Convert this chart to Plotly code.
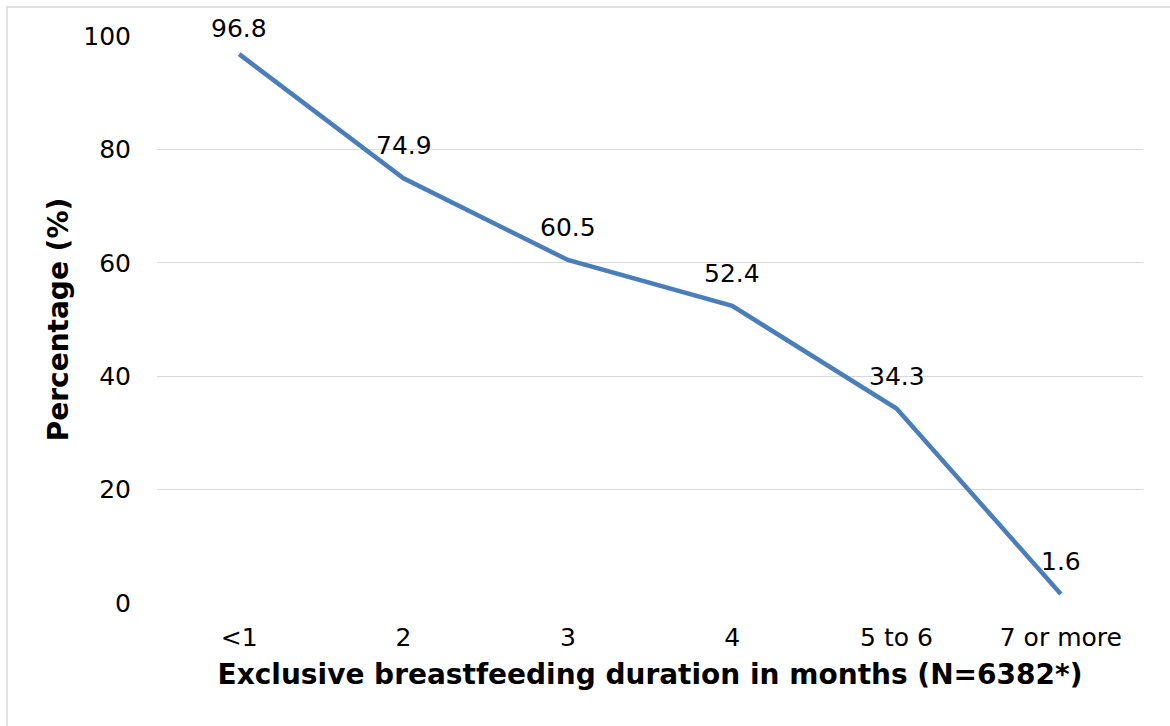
import plotly.graph_objects as go

categories = ["<1", "2", "3", "4", "5 to 6", "7 or more"]
values = [96.8, 74.9, 60.5, 52.4, 34.3, 1.6]
y_ticks = [0, 20, 40, 60, 80, 100]

FONT = "DejaVu Sans"
TICK_SIZE = 25
TITLE_SIZE = 28

fig = go.Figure()
fig.add_trace(go.Scatter(
    x=categories, y=values, mode="lines",
    line=dict(color="#4A7EBB", width=4.5),
    hoverinfo="skip", showlegend=False,
))

# data labels above each point (x given as category index)
for i, v in enumerate(values):
    fig.add_annotation(
        x=i, y=v, text=f"{v:.1f}", showarrow=False,
        xanchor="center", yanchor="bottom",
        yshift=9 if i == 0 else 16,
        font=dict(family=FONT, size=TICK_SIZE, color="#000000"),
    )

fig.update_layout(
    width=1170, height=726,
    margin=dict(l=157, r=27, t=36, b=123),
    paper_bgcolor="white", plot_bgcolor="white",
    font=dict(family=FONT, size=TICK_SIZE, color="#000000"),
    xaxis=dict(
        type="category", range=[-0.5, 5.5], showgrid=False, showline=False,
        zeroline=False, ticks="", tickfont=dict(size=TICK_SIZE),
        ticklabelstandoff=17,
        title=dict(text="<b>Exclusive breastfeeding duration in months (N=6382*)</b>",
                   font=dict(size=TITLE_SIZE), standoff=13),
    ),
    yaxis=dict(
        range=[0, 100], tickvals=y_ticks, showgrid=True, gridcolor="#D9D9D9",
        gridwidth=1.3, zeroline=False, showline=False, ticks="",
        tickfont=dict(size=TICK_SIZE), ticklabelstandoff=25,
        title=dict(text="<b>Percentage (%)</b>", font=dict(size=TITLE_SIZE), standoff=6),
    ),
    shapes=[dict(type="rect", xref="paper", yref="paper",
                 x0=-150 / 986, x1=1.2, y0=-0.5, y1=1 + 29 / 567,
                 line=dict(color="#D9D9D9", width=1.5), layer="below")],
)

fig.write_html("out.html", config={"displayModeBar": False},
               post_script="document.body.style.margin='0';document.body.style.overflow='hidden';")
